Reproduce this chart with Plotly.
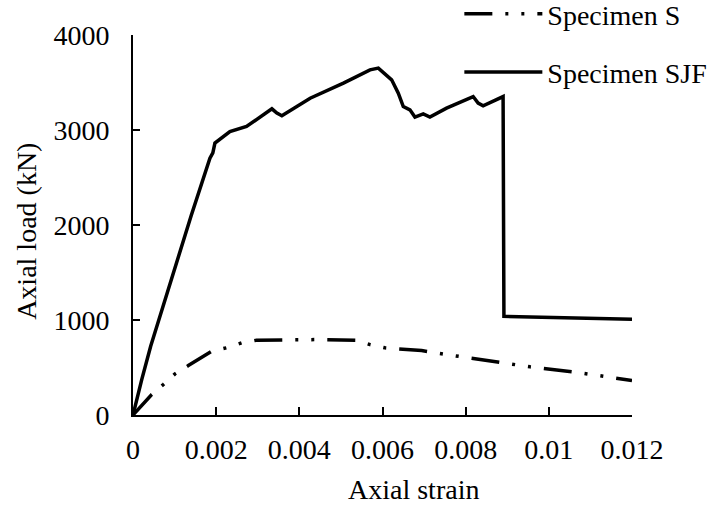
import plotly.graph_objects as go

# Specimen SJF (solid)
sjf_strain = [0.0, 0.00007, 0.00021, 0.000425, 0.00069, 0.00098, 0.00140, 0.00185, 0.00192,
              0.00197, 0.00208, 0.00233, 0.00273, 0.00297, 0.00334, 0.00346, 0.00358,
              0.00426, 0.00506, 0.00570, 0.00590, 0.00622, 0.00638, 0.00650, 0.00666,
              0.00678, 0.00698, 0.00714, 0.00754, 0.00818, 0.00830, 0.00842, 0.00890,
              0.00892, 0.01050, 0.01171, 0.01200]
sjf_load = [0, 128, 373, 724, 1100, 1500, 2100, 2704, 2760,
            2862, 2897, 2984, 3037, 3107, 3223, 3178, 3149,
            3335, 3493, 3633, 3651, 3528, 3388, 3247, 3212,
            3136, 3170, 3136, 3230, 3352, 3283, 3254, 3352,
            1039, 1020, 1004, 1008]

# Specimen S (dash-dot-dot)
s_strain = [0.0, 0.00045, 0.00073, 0.00101, 0.00133, 0.00189, 0.00225, 0.00261, 0.00297,
            0.00361, 0.00442, 0.00538, 0.00570, 0.00606, 0.00694, 0.00770, 0.00875,
            0.00955, 0.01059, 0.01135, 0.01200]
s_load = [0, 216, 321, 433, 520, 671, 707, 759, 787,
          794, 794, 787, 741, 707, 678, 626, 555,
          507, 454, 402, 363]

x_ticks = [0, 0.002, 0.004, 0.006, 0.008, 0.01, 0.012]
x_tick_text = ["0", "0.002", "0.004", "0.006", "0.008", "0.01", "0.012"]
y_ticks = [0, 1000, 2000, 3000, 4000]

x_title = "Axial strain"
y_title = "Axial load (kN)"

FONT = "Liberation Serif, Times New Roman, serif"
FS = 28

fig = go.Figure()
fig.add_trace(go.Scatter(
    x=s_strain, y=s_load, mode="lines", name="Specimen S",
    legendgroup="s",
    line=dict(color="black", width=3.5, dash="28px,13px,3px,13px,3px,13px"),
))
fig.add_trace(go.Scatter(
    x=sjf_strain, y=sjf_load, mode="lines", name="Specimen SJF",
    legendgroup="sjf",
    line=dict(color="black", width=3.5),
))

axis_common = dict(
    showgrid=False, zeroline=False, showline=True, linecolor="black", linewidth=2,
    ticks="inside", tickcolor="black", tickwidth=2,
    tickfont=dict(family=FONT, size=FS, color="black"),
)

fig.update_layout(
    width=716, height=512,
    margin=dict(l=133, r=84, t=35, b=96.5, autoexpand=False),
    paper_bgcolor="white", plot_bgcolor="white",
    font=dict(family=FONT, size=FS, color="black"),
    xaxis=dict(range=[0, 0.012], tickvals=x_ticks, ticktext=x_tick_text, ticklen=8,
               ticklabelstandoff=8, **axis_common),
    yaxis=dict(range=[0, 4000], tickvals=y_ticks, ticklen=7,
               ticklabelstandoff=16, **axis_common),
    legend=dict(x=0.654, y=1.121, xanchor="left", yanchor="top", bgcolor="rgba(0,0,0,0)",
                traceorder="grouped", tracegroupgap=19, itemwidth=78,
                font=dict(family=FONT, size=FS, color="black")),
    annotations=[
        dict(text=x_title, xref="paper", yref="paper", x=0.563, y=-0.196,
             xanchor="center", yanchor="middle", showarrow=False,
             font=dict(family=FONT, size=FS, color="black")),
        dict(text=y_title, xref="paper", yref="paper", x=-0.2124, y=0.482,
             xanchor="center", yanchor="middle", showarrow=False, textangle=-90,
             font=dict(family=FONT, size=FS, color="black")),
    ],
)

fig.write_html("out.html", config={"displayModeBar": False},
               post_script="document.body.style.margin='0';")
